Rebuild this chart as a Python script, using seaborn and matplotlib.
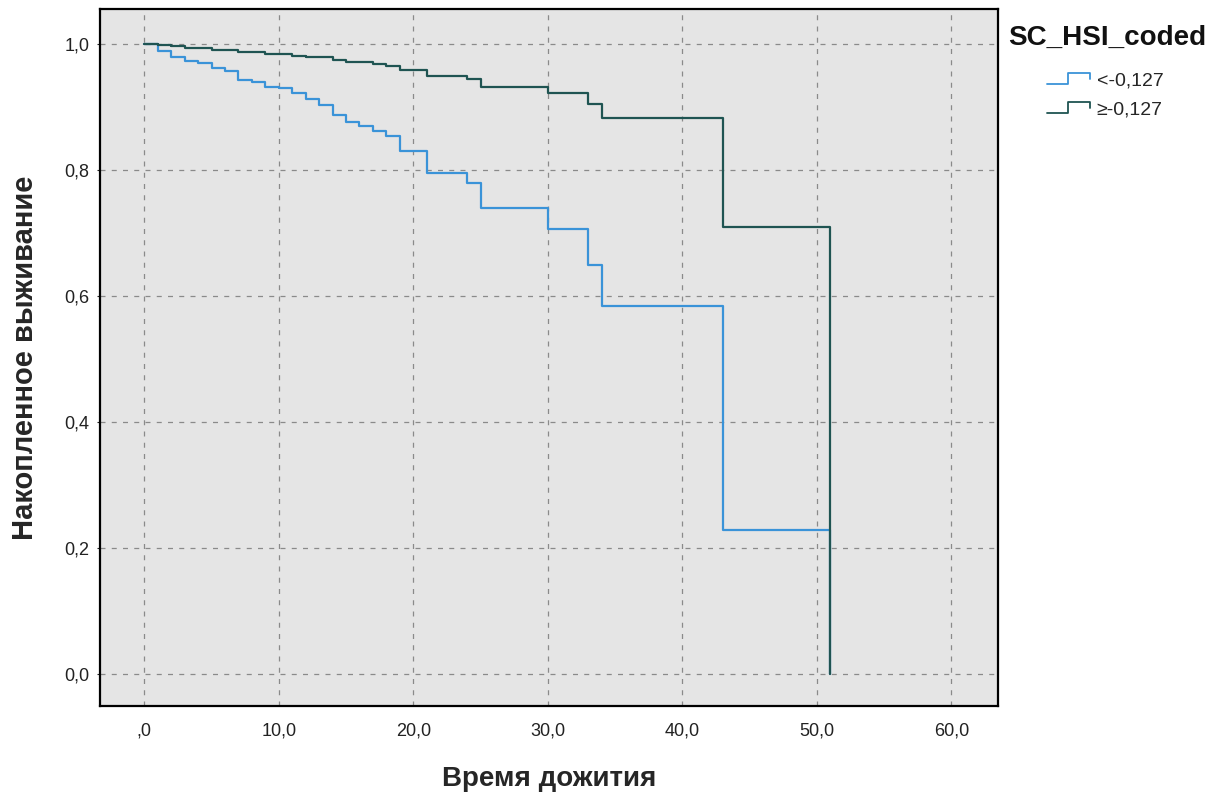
import numpy as np
import pandas as pd
import matplotlib
matplotlib.use("Agg")
import matplotlib.pyplot as plt
import seaborn as sns
from matplotlib.legend_handler import HandlerBase
from matplotlib.lines import Line2D

# ---- data ----
groups = ["<-0,127", "≥-0,127"]

time_low = [0, 1, 2, 3, 4, 5, 6, 7, 8, 9, 10, 11, 12, 13, 14, 15, 16, 17, 18, 19,
            21, 24, 25, 30, 33, 34, 43, 51]
surv_low = [1.0, 0.989, 0.979, 0.973, 0.969, 0.961, 0.956, 0.942, 0.939, 0.932, 0.929,
            0.921, 0.912, 0.902, 0.887, 0.875, 0.869, 0.862, 0.854, 0.830,
            0.795, 0.779, 0.740, 0.706, 0.648, 0.583, 0.229, 0.0]

time_high = [0, 1, 2, 3, 5, 7, 9, 11, 12, 14, 15, 17, 18, 19, 21, 24, 25, 30, 33, 34, 43, 51]
surv_high = [1.0, 0.9974, 0.9958, 0.9931, 0.9905, 0.9868, 0.9836, 0.981, 0.9788, 0.9746,
             0.971, 0.9677, 0.964, 0.9577, 0.949, 0.944, 0.932, 0.922, 0.904, 0.882, 0.709, 0.0]

x_ticks = [0, 10, 20, 30, 40, 50, 60]
x_tick_labels = [",0", "10,0", "20,0", "30,0", "40,0", "50,0", "60,0"]
y_ticks = [0.0, 0.2, 0.4, 0.6, 0.8, 1.0]
y_tick_labels = ["0,0", "0,2", "0,4", "0,6", "0,8", "1,0"]

x_label = "Время дожития"
y_label = "Накопленное выживание"
legend_title = "SC_HSI_coded"

colors = {"<-0,127": "#3a93d8", "≥-0,127": "#1f5452"}

df = pd.concat([
    pd.DataFrame({"t": time_low, "S": surv_low, "g": groups[0]}),
    pd.DataFrame({"t": time_high, "S": surv_high, "g": groups[1]}),
], ignore_index=True)

sns.set_style("white")
plt.rcParams["font.family"] = ["Liberation Sans", "DejaVu Sans"]

fig = plt.figure(figsize=(12.30, 7.99), dpi=100)
ax = fig.add_axes([100 / 1230, 93 / 799, 898 / 1230, 697 / 799])
ax.set_facecolor("#e5e5e5")

sns.lineplot(data=df, x="t", y="S", hue="g", hue_order=groups, palette=colors,
             estimator=None, sort=False, drawstyle="steps-post", linewidth=1.6,
             ax=ax, legend=False)

ax.set_xlim(-3.29, 63.47)
ax.set_ylim(-0.051, 1.055)
ax.set_xticks(x_ticks)
ax.set_xticklabels(x_tick_labels)
ax.set_yticks(y_ticks)
ax.set_yticklabels(y_tick_labels)
ax.tick_params(axis="x", length=0, pad=12, labelsize=13, colors="#222222")
ax.tick_params(axis="y", length=2.5, width=0.8, pad=5, labelsize=13, colors="#222222", left=True)
ax.grid(True, linestyle=(0, (4, 5)), color="#8a8a8a", linewidth=0.9)
ax.set_axisbelow(True)
for s in ax.spines.values():
    s.set_visible(True)
    s.set_color("black")
    s.set_linewidth(1.6)

ax.set_xlabel(x_label, fontsize=20, fontweight="bold", labelpad=19)
ax.set_ylabel(y_label, fontsize=21, fontweight="bold", labelpad=18)


class StepHandler(HandlerBase):
    def create_artists(self, legend, orig_handle, xdescent, ydescent, width, height,
                       fontsize, trans):
        x0, y0 = -xdescent, -ydescent
        xs = [x0, x0 + 0.5 * width, x0 + 0.5 * width, x0 + width, x0 + width]
        ys = [y0 + 0.05 * height, y0 + 0.05 * height, y0 + 0.95 * height,
              y0 + 0.95 * height, y0 + 0.45 * height]
        ln = Line2D(xs, ys, color=orig_handle.get_color(), linewidth=1.3)
        ln.set_transform(trans)
        return [ln]


fig.text(1008 / 1230, 1 - 38 / 799, legend_title, fontsize=20, fontweight="bold",
         ha="left", va="center", color="#111111")

handles = [Line2D([], [], color=colors[g]) for g in groups]
leg = fig.legend(handles, groups, loc="upper left",
                 bbox_to_anchor=(1047 / 1230, 1 - 72 / 799), borderpad=0,
                 borderaxespad=0, frameon=False, fontsize=14,
                 handler_map={Line2D: StepHandler()}, handlelength=2.2,
                 handleheight=0.6, handletextpad=0.35, labelspacing=0.65)

fig.savefig("out.png", dpi=100)
